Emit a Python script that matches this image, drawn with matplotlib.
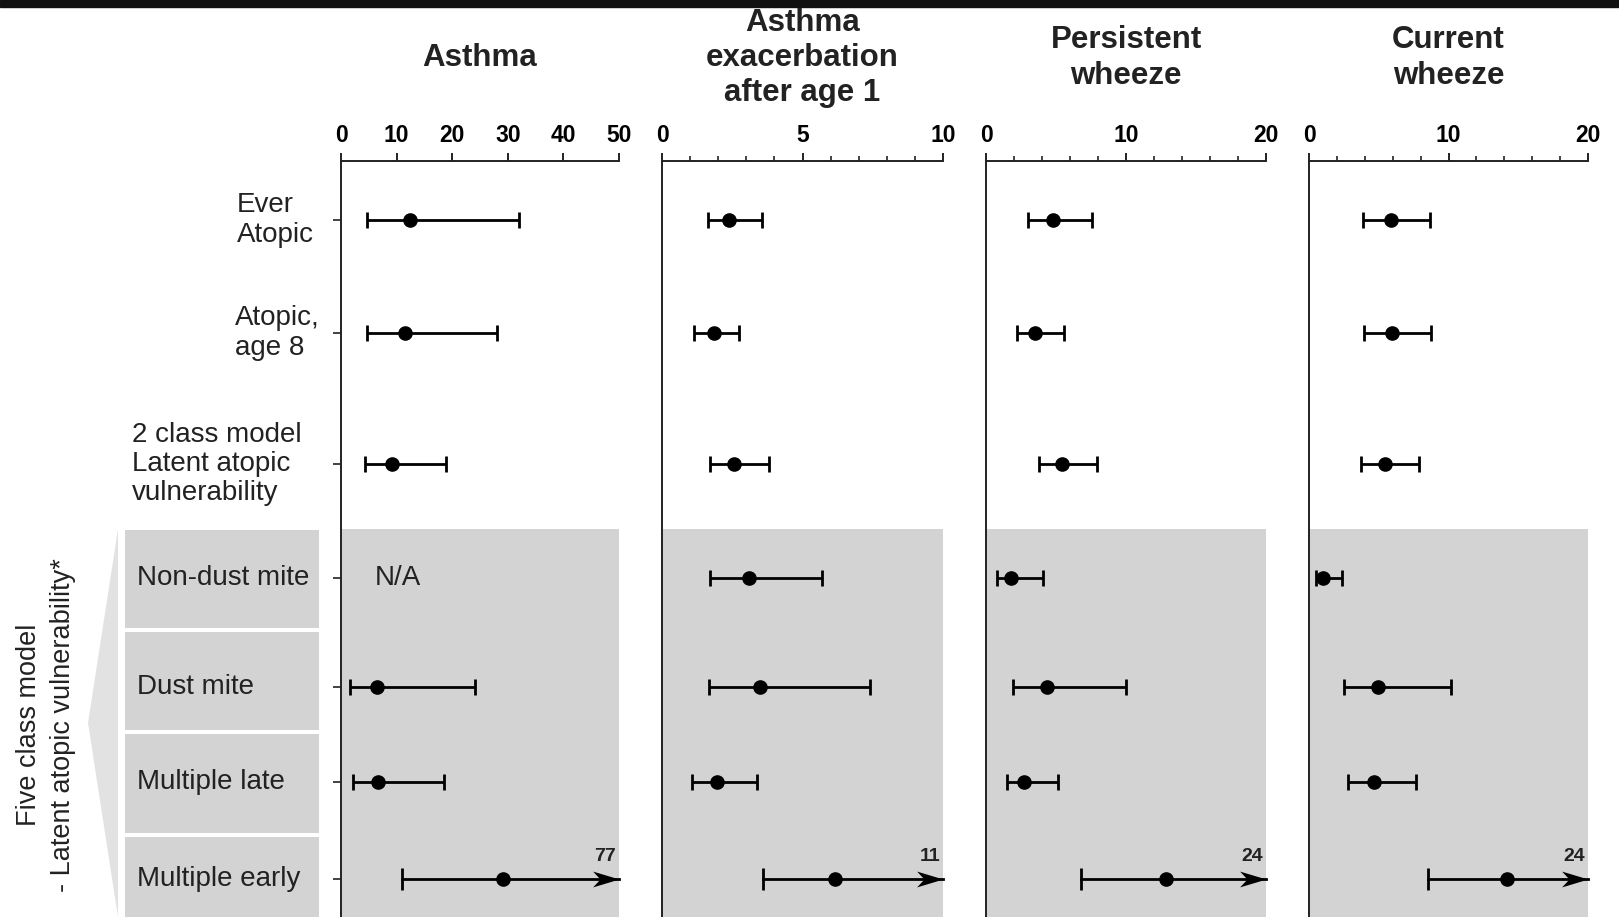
import numpy as np
import matplotlib.pyplot as plt
from matplotlib.patches import Rectangle, Polygon
from matplotlib.path import Path

plt.rcParams['font.family'] = ['Liberation Sans', 'DejaVu Sans']

# row categories, top to bottom
categories = ["Ever\nAtopic", "Atopic,\nage 8",
              "2 class model\nLatent atopic\nvulnerability",
              "Non-dust mite", "Dust mite", "Multiple late", "Multiple early"]
n_shaded = 4  # last four rows belong to the five class model

outcomes = ["Asthma", "Asthma\nexacerbation\nafter age 1",
            "Persistent\nwheeze", "Current\nwheeze"]
x_max = [50, 10, 20, 20]
x_labels = [[0, 10, 20, 30, 40, 50], [0, 5, 10], [0, 10, 20], [0, 10, 20]]
x_minor = [10, 1, 2, 2]

nan = np.nan
asthma_est = [12.4, 11.5, 9.2, nan, 6.4, 6.7, 29.2]
asthma_lo = [4.7, 4.7, 4.3, nan, 1.7, 2.2, 11.0]
asthma_hi = [32.1, 28.0, 18.8, nan, 24.1, 18.6, 77]

exac_est = [2.39, 1.84, 2.57, 3.10, 3.47, 1.94, 6.16]
exac_lo = [1.64, 1.13, 1.72, 1.72, 1.66, 1.05, 3.58]
exac_hi = [3.55, 2.75, 3.82, 5.68, 7.40, 3.37, 11]

persist_est = [4.80, 3.52, 5.40, 1.80, 4.36, 2.74, 12.85]
persist_lo = [3.02, 2.23, 3.81, 0.81, 1.92, 1.47, 6.82]
persist_hi = [7.60, 5.55, 7.92, 4.07, 10.0, 5.11, 24]

current_est = [5.85, 5.92, 5.42, 1.02, 4.96, 4.67, 14.2]
current_lo = [3.89, 3.92, 3.70, 0.50, 2.48, 2.83, 8.55]
current_hi = [8.68, 8.74, 7.86, 2.40, 10.15, 7.65, 24]

estimates = [asthma_est, exac_est, persist_est, current_est]
lowers = [asthma_lo, exac_lo, persist_lo, current_lo]
uppers = [asthma_hi, exac_hi, persist_hi, current_hi]

# layout, in pixels from the top-left corner
W, H = 1619, 917
panel_x = [(341, 619), (662, 943), (986, 1266), (1309, 1588)]
axis_top = 161
row_y = [220, 333, 464, 578, 687, 782, 879]
label_x = [237, 235, 132, 137, 137, 137, 137]
shade_top = 529
box_x = (125, 319)
box_edges = [530, 632, 734, 837, H + 5]
GREY = '#d3d3d3'
INK = '#222222'

# arrowhead with a notched back, tip sitting on the data point
arrow_head = Path([(0, 0), (-1, 0.3), (-0.72, 0), (-1, -0.3), (0, 0)],
                  [Path.MOVETO, Path.LINETO, Path.LINETO, Path.LINETO, Path.CLOSEPOLY])

fig = plt.figure(figsize=(W / 100, H / 100), dpi=100)

bg = fig.add_axes([0, 0, 1, 1], zorder=0)
bg.set_xlim(0, W)
bg.set_ylim(H, 0)
bg.axis('off')
bg.add_patch(Rectangle((0, 0), W, 7, color='#111111'))

# grey boxes behind the five class labels and the bracket wedge
for top, bottom in zip(box_edges[:-1], box_edges[1:]):
    bg.add_patch(Rectangle((box_x[0], top), box_x[1] - box_x[0], bottom - top - 4,
                           color=GREY, lw=0))
bg.add_patch(Polygon([(118, shade_top), (88, 723), (118, H)], closed=True,
                     color='#e2e2e2', lw=0))

for i, (lab, y) in enumerate(zip(categories, row_y)):
    bg.text(label_x[i], y, lab, ha='left', va='center', fontsize=20,
            linespacing=1.17, color=INK)

bg.text(46, 725, "Five class model\n- Latent atopic vulnerability*", rotation=90,
        ha='center', va='center', multialignment='center', fontsize=19.5,
        linespacing=1.4, color=INK)

for p, (x0, x1) in enumerate(panel_x):
    ax = fig.add_axes([x0 / W, 0, (x1 - x0) / W, (H - axis_top) / H], zorder=1)
    ax.set_facecolor('none')
    ax.set_xlim(0, x_max[p])
    ax.set_ylim(H, axis_top)
    for side in ['right', 'bottom']:
        ax.spines[side].set_visible(False)
    for side in ['top', 'left']:
        ax.spines[side].set_linewidth(1.4)
        ax.spines[side].set_color(INK)
    ax.xaxis.tick_top()
    ax.set_xticks(x_labels[p])
    ax.set_xticks(np.arange(0, x_max[p] + 0.01, x_minor[p]), minor=True)
    ax.tick_params(axis='x', which='major', length=6, width=1.4, pad=4,
                   labelsize=16.5, color=INK)
    ax.tick_params(axis='x', which='minor', length=3.5, width=1.2, color=INK)
    for t in ax.get_xticklabels():
        t.set_fontweight('bold')
    if p == 0:
        ax.set_yticks(row_y)
        ax.set_yticklabels([])
        ax.tick_params(axis='y', length=6, width=1.2, color=INK)
    else:
        ax.set_yticks([])

    ax.axhspan(shade_top, H + 5, color=GREY, lw=0, zorder=0)

    fig.text((x0 + x1) / 2 / W, 1 - 58 / H, outcomes[p], ha='center', va='center',
             fontsize=22.5, fontweight='bold', linespacing=1.22, color=INK)

    for est, lo, hi, y in zip(estimates[p], lowers[p], uppers[p], row_y):
        if np.isnan(est):
            ax.text(6, y, "N/A", ha='left', va='center', fontsize=20, color=INK)
            continue
        if hi > x_max[p]:
            # upper limit off the scale: arrow to the axis end, value printed above
            ax.plot([lo, x_max[p]], [y, y], color='black', lw=2, clip_on=False,
                    zorder=3)
            ax.plot([x_max[p]], [y], marker=arrow_head, ms=38, mew=0,
                    color='black', clip_on=False, zorder=3)
            ax.plot([lo], [y], marker='|', ms=16, mew=2, color='black', zorder=3)
            ax.plot([est], [y], 'o', ms=9.5, color='black', zorder=4)
            ax.annotate(f"{hi:g}", xy=(x_max[p], y), xytext=(-2, 16),
                        textcoords='offset points', ha='right', va='center',
                        fontsize=14, fontweight='bold', color=INK)
        else:
            ax.errorbar([est], [y], xerr=[[est - lo], [hi - est]], fmt='o', ms=9.5,
                        color='black', ecolor='black', elinewidth=2, capsize=6,
                        capthick=2, zorder=3)

fig.savefig('out.png', dpi=100)
